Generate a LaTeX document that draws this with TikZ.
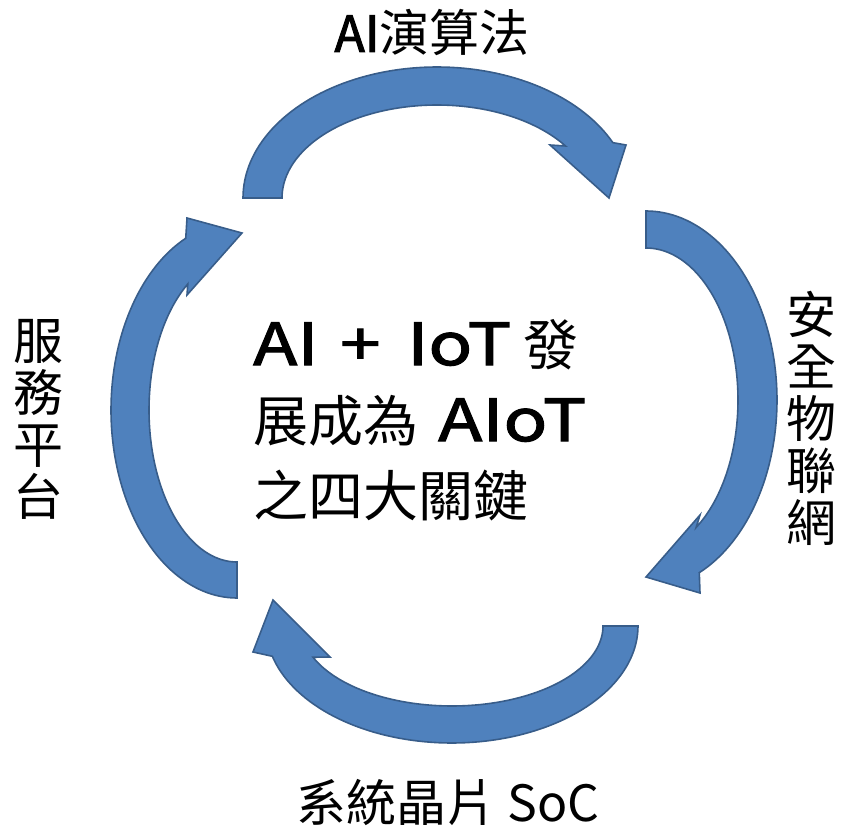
\documentclass[tikz,border=0pt]{standalone}
\usepackage{fontspec}
\newfontfamily\cjk{Noto Sans CJK TC}
\newfontfamily\cjksemi{Noto Sans CJK TC}[FakeBold=2]
\newfontfamily\cjkwide{Noto Sans CJK TC}[FakeBold=2,FakeStretch=1.25]
\definecolor{arrowfill}{HTML}{4F81BD}
\definecolor{arrowedge}{HTML}{385D8A}
\newcommand{\widelatin}[1]{{\cjkwide\fontsize{58}{76}\selectfont #1}}
\begin{document}
\begin{tikzpicture}[x=1pt,y=-1pt,
  bigarrow/.style={fill=arrowfill,draw=arrowedge,line width=1.6pt,line join=miter},
  lbl/.style={inner sep=0pt,font=\cjk\fontsize{50}{52}\selectfont,align=center},
  ctr/.style={inner sep=0pt,anchor=base west,font=\cjk\fontsize{55}{76}\selectfont}]
\useasboundingbox (0,0) rectangle (841,829);
% top arrow
\draw[bigarrow] plot[domain=180:25,samples=80,variable=\t] ({437+194*cos(\t)},{198-131*sin(\t)})
  -- (626,145) -- (609,198) -- (550,145)
  -- plot[domain=34:180,samples=80,variable=\t] ({437+155*cos(\t)},{198-93*sin(\t)}) -- cycle;
% right arrow
\draw[bigarrow] plot[domain=90:-66,samples=80,variable=\t] ({646+131*cos(\t)},{400-189*sin(\t)})
  -- (700,593) -- (646,577) -- (700,515)
  -- plot[domain=-57:90,samples=80,variable=\t] ({646+92*cos(\t)},{400-152*sin(\t)}) -- cycle;
% bottom arrow
\draw[bigarrow] plot[domain=0:-165,samples=80,variable=\t] ({452+186*cos(\t)},{626-117*sin(\t)})
  -- (253,652) -- (273,600) -- (330,657)
  -- plot[domain=-157:0,samples=80,variable=\t] ({452+151*cos(\t)},{626-80*sin(\t)}) -- cycle;
% left arrow
\draw[bigarrow] plot[domain=270:114,samples=80,variable=\t] ({237+126*cos(\t)},{410-188*sin(\t)})
  -- (187,218) -- (242,233) -- (187,295)
  -- plot[domain=124:270,samples=80,variable=\t] ({237+88*cos(\t)},{410-152*sin(\t)}) -- cycle;
% labels
\node[lbl,anchor=base] (ltop) at (432,52) {{\cjksemi AI}演算法};
\node[lbl,anchor=base] (lbot) at (448,821) {系統晶片 SoC};
\node[lbl] (lright) at (811,418) {安\\全\\物\\聯\\網};
\node[lbl] (lleft) at (38,419) {服\\務\\平\\台};
% centre text
\node[ctr] (c1) at (253,365) {\makebox[87pt][l]{\widelatin{AI}}\makebox[67pt][l]{\widelatin{+}}\makebox[116pt][l]{\widelatin{IoT}}發};
\node[ctr] (c2) at (253,441) {\makebox[185pt][l]{展成為}\widelatin{AIoT}};
\node[ctr] (c3) at (253,516) {之四大關鍵};
\end{tikzpicture}
\end{document}
